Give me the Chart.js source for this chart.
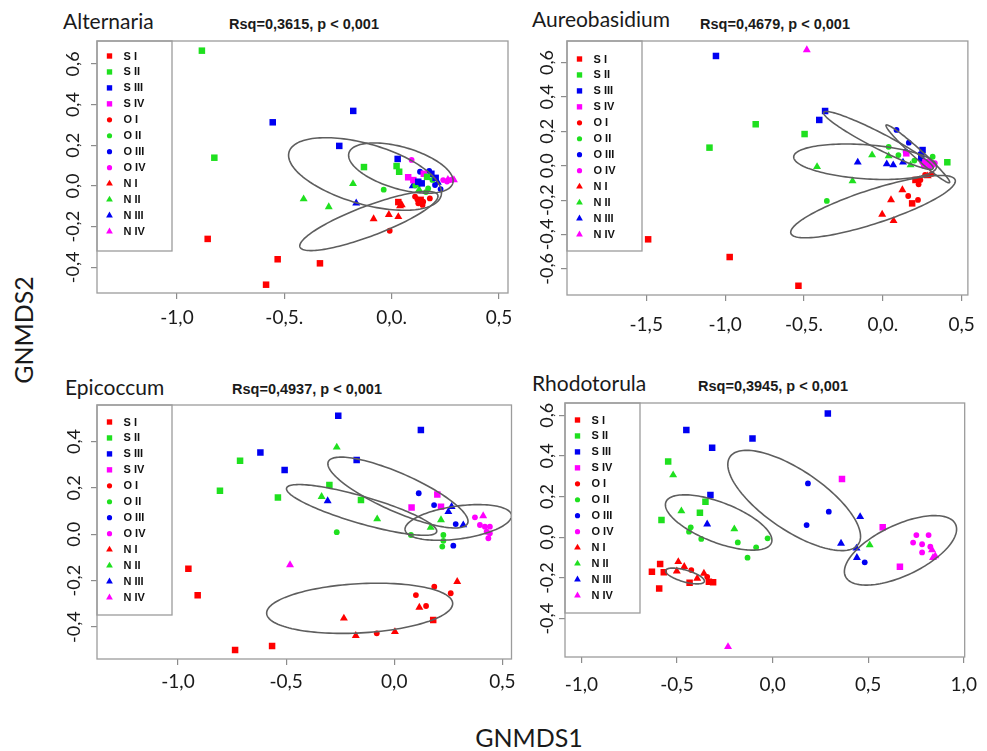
<!DOCTYPE html>
<html lang="en">
<head>
<meta charset="UTF-8">
<meta name="viewport" content="width=device-width, initial-scale=1.0">
<script src="https://cdn.jsdelivr.net/npm/chart.js@4.4.1/dist/chart.umd.min.js"></script>
<title>GNMDS ordinations</title>
<style>
  body { margin: 0; background: #fff; }
  #page { position: relative; width: 987px; height: 751px; overflow: hidden; font-family: Lato, "Open Sans", sans-serif; color: #1a1a1a; }
  #page canvas { position: absolute; }
  .genus { position: absolute; font-size: 21px; white-space: nowrap; transform: translateY(-50%); }
  .rsq { position: absolute; font: bold 14.5px "Liberation Sans", Arial, sans-serif; white-space: nowrap; transform: translate(-50%, -50%); }
  .axis-title { position: absolute; font-size: 25px; white-space: nowrap; transform: translate(-50%, -50%); }
</style>
</head>
<body>
<div id="page">
  <div class="genus" style="left:63px;top:20px">Alternaria</div>
  <div class="rsq" style="left:304px;top:24px">Rsq=0,3615, p &lt; 0,001</div>
  <div class="genus" style="left:532px;top:18px">Aureobasidium</div>
  <div class="rsq" style="left:775px;top:24px">Rsq=0,4679, p &lt; 0,001</div>
  <div class="genus" style="left:65px;top:386px">Epicoccum</div>
  <div class="rsq" style="left:307px;top:389px">Rsq=0,4937, p &lt; 0,001</div>
  <div class="genus" style="left:532px;top:382px">Rhodotorula</div>
  <div class="rsq" style="left:773px;top:386px">Rsq=0,3945, p &lt; 0,001</div>

  <canvas id="alternaria" width="485" height="315" style="left:40px;top:30px"></canvas>
  <canvas id="aureobasidium" width="472" height="315" style="left:515px;top:30px"></canvas>
  <canvas id="epicoccum" width="485" height="304" style="left:40px;top:395px"></canvas>
  <canvas id="rhodotorula" width="472" height="305" style="left:515px;top:395px"></canvas>

  <div class="axis-title" style="left:23px;top:330px;transform:translate(-50%,-50%) rotate(-90deg)">GNMDS2</div>
  <div class="axis-title" style="left:529px;top:737px">GNMDS1</div>
</div>

<script>
// sample groups: S/O/N sites, I-IV sampling times
const groups = ['S I', 'S II', 'S III', 'S IV', 'O I', 'O II', 'O III', 'O IV', 'N I', 'N II', 'N III', 'N IV'];
const timeColors = ['#ff0000', '#1fe01f', '#0000f2', '#ff00ff'];
const siteShapes = { S: 'rect', O: 'circle', N: 'triangle' };

// [group, GNMDS1, GNMDS2]
const alternariaPoints = [
  ['S I', -0.857, -0.260], ['S I', -0.531, -0.360], ['S I', -0.334, -0.380], ['S I', -0.585, -0.485], ['S I', 0.031, -0.079], ['S I', 0.135, -0.068],
  ['S II', -0.884, 0.665], ['S II', -0.826, 0.139], ['S II', -0.129, 0.093], ['S II', 0.023, 0.098], ['S II', 0.035, 0.070], ['S II', 0.165, 0.045],
  ['S III', -0.554, 0.313], ['S III', -0.179, 0.369], ['S III', -0.244, 0.197], ['S III', 0.028, 0.133], ['S III', 0.124, 0.021], ['S III', 0.140, 0.013], ['S III', 0.185, 0.060], ['S III', 0.205, 0.040],
  ['S IV', 0.077, 0.043], ['S IV', 0.101, 0.029], ['S IV', 0.150, 0.060],
  ['O I', -0.009, -0.220], ['O I', 0.109, -0.052], ['O I', 0.124, -0.085], ['O I', 0.144, -0.093], ['O I', 0.178, -0.061], ['O I', 0.147, -0.077], ['O I', 0.120, -0.066],
  ['O II', -0.037, -0.018], ['O II', 0.110, 0.003], ['O II', 0.170, -0.012], ['O II', 0.190, 0.030], ['O II', 0.160, -0.030], ['O II', 0.125, 0.010],
  ['O III', 0.132, 0.070], ['O III', 0.175, 0.074], ['O III', 0.202, 0.005], ['O III', 0.228, -0.015],
  ['O IV', 0.093, 0.128], ['O IV', 0.240, 0.029], ['O IV', 0.272, 0.029], ['O IV', 0.284, 0.033], ['O IV', 0.258, 0.022],
  ['N I', -0.084, -0.162], ['N I', -0.013, -0.141], ['N I', 0.031, -0.151], ['N I', 0.039, -0.098], ['N I', 0.047, -0.093],
  ['N II', -0.410, -0.064], ['N II', -0.293, -0.103], ['N II', -0.180, 0.011], ['N II', 0.128, -0.018],
  ['N III', -0.165, -0.084], ['N III', 0.098, 0.000], ['N III', 0.215, 0.018],
  ['N IV', 0.262, 0.032], ['N IV', 0.290, 0.030]
];
const aureobasidiumPoints = [
  ['S I', -1.488, -0.428], ['S I', -0.971, -0.531], ['S I', -0.535, -0.698], ['S I', 0.207, -0.083], ['S I', 0.186, -0.219],
  ['S II', -0.806, 0.241], ['S II', -1.099, 0.105], ['S II', -0.496, 0.184], ['S II', 0.409, 0.020],
  ['S III', -1.058, 0.638], ['S III', -0.366, 0.318], ['S III', -0.403, 0.266], ['S III', 0.252, 0.091], ['S III', 0.244, 0.062],
  ['S IV', 0.149, 0.072], ['S IV', 0.270, 0.020], ['S IV', 0.300, 0.010],
  ['O I', 0.238, -0.083], ['O I', 0.227, -0.108], ['O I', 0.268, -0.054], ['O I', 0.310, -0.048], ['O I', 0.161, -0.176], ['O I', 0.223, -0.199],
  ['O II', -0.355, -0.205], ['O II', 0.037, 0.110], ['O II', 0.099, 0.062], ['O II', 0.316, 0.052], ['O II', 0.200, 0.030],
  ['O III', 0.087, 0.208], ['O III', 0.165, 0.134], ['O III', 0.145, 0.081], ['O III', 0.240, 0.040],
  ['O IV', 0.250, 0.020], ['O IV', 0.285, 0.025], ['O IV', 0.320, 0.005], ['O IV', 0.295, -0.005], ['O IV', 0.260, 0.000], ['O IV', 0.330, 0.015],
  ['N I', 0.124, -0.141], ['N I', 0.052, -0.199], ['N I', -0.004, -0.283], ['N I', 0.068, -0.320], ['N I', 0.285, -0.060],
  ['N II', -0.417, -0.006], ['N II', -0.192, -0.089], ['N II', -0.068, 0.062], ['N II', 0.037, 0.056], ['N II', 0.176, 0.004],
  ['N III', -0.159, 0.020], ['N III', 0.025, 0.010], ['N III', 0.066, 0.004], ['N III', 0.128, 0.020],
  ['N IV', -0.482, 0.673], ['N IV', 0.300, 0.020]
];
const epicoccumPoints = [
  ['S I', -0.952, -0.148], ['S I', -0.909, -0.263], ['S I', -0.736, -0.499], ['S I', -0.565, -0.481], ['S I', 0.180, -0.369],
  ['S II', -0.713, 0.317], ['S II', -0.806, 0.188], ['S II', -0.538, 0.159], ['S II', -0.300, 0.212], ['S II', -0.154, 0.148],
  ['S III', -0.259, 0.511], ['S III', 0.123, 0.450], ['S III', -0.619, 0.353], ['S III', -0.507, 0.277], ['S III', -0.174, 0.320],
  ['S IV', 0.199, 0.172], ['S IV', 0.080, 0.116], ['S IV', 0.216, 0.119],
  ['O I', 0.185, -0.226], ['O I', 0.100, -0.262], ['O I', 0.261, -0.254], ['O I', 0.147, -0.309], ['O I', -0.081, -0.427],
  ['O II', -0.266, 0.009], ['O II', 0.077, -0.003], ['O II', 0.227, -0.003], ['O II', 0.227, -0.028], ['O II', 0.222, -0.053],
  ['O III', 0.113, 0.177], ['O III', 0.184, 0.126], ['O III', 0.273, -0.049], ['O III', 0.284, 0.044],
  ['O IV', 0.373, 0.073], ['O IV', 0.396, 0.040], ['O IV', 0.419, 0.033], ['O IV', 0.442, 0.033], ['O IV', 0.427, 0.011], ['O IV', 0.442, 0.004], ['O IV', 0.435, -0.017],
  ['N I', 0.291, -0.204], ['N I', 0.116, -0.315], ['N I', -0.233, -0.362], ['N I', -0.178, -0.437], ['N I', 0.003, -0.420],
  ['N II', -0.266, 0.375], ['N II', -0.336, 0.162], ['N II', -0.079, 0.066], ['N II', 0.216, 0.062], ['N II', 0.168, 0.030],
  ['N III', -0.308, 0.144], ['N III', 0.265, 0.119], ['N III', 0.250, 0.097], ['N III', 0.319, 0.040],
  ['N IV', 0.411, 0.079], ['N IV', -0.482, -0.132]
];
const rhodotorulaPoints = [
  ['S I', -0.631, -0.169], ['S I', -0.588, -0.131], ['S I', -0.569, -0.172], ['S I', -0.593, -0.251], ['S I', -0.434, -0.223], ['S I', -0.333, -0.218], ['S I', -0.311, -0.221],
  ['S II', -0.546, 0.372], ['S II', -0.351, 0.175], ['S II', -0.380, 0.121], ['S II', -0.581, 0.085],
  ['S III', 0.289, 0.609], ['S III', -0.451, 0.527], ['S III', -0.105, 0.486], ['S III', -0.316, 0.440], ['S III', -0.325, 0.208],
  ['S IV', 0.363, 0.286], ['S IV', 0.576, 0.049], ['S IV', 0.666, -0.144],
  ['O I', -0.425, -0.161], ['O I', -0.342, -0.194],
  ['O II', -0.428, 0.049], ['O II', -0.437, 0.028], ['O II', -0.373, -0.008], ['O II', -0.182, -0.025], ['O II', -0.086, -0.049], ['O II', -0.026, -0.005], ['O II', -0.131, -0.100],
  ['O III', 0.185, 0.265], ['O III', 0.294, 0.126], ['O III', 0.178, 0.060], ['O III', 0.482, -0.123],
  ['O IV', 0.752, 0.011], ['O IV', 0.816, 0.011], ['O IV', 0.735, -0.026], ['O IV', 0.782, -0.034], ['O IV', 0.782, -0.074], ['O IV', 0.825, -0.046],
  ['N I', -0.493, -0.120], ['N I', -0.501, -0.166], ['N I', -0.462, -0.144], ['N I', -0.394, -0.202], ['N I', -0.359, -0.177],
  ['N II', -0.520, 0.306], ['N II', -0.477, 0.129], ['N II', -0.200, 0.041], ['N II', 0.508, -0.038],
  ['N III', -0.342, 0.065], ['N III', 0.458, 0.101], ['N III', 0.358, -0.030], ['N III', 0.439, -0.054], ['N III', 0.441, -0.100],
  ['N IV', -0.233, -0.538], ['N IV', 0.834, -0.062], ['N IV', 0.851, -0.092], ['N IV', 0.839, -0.100]
];

// dispersion ellipses: centre, then two conjugate semi-axes [cx, cy, ux, uy, vx, vy]
const alternariaEllipses = [
  [-0.124, 0.059, 0.354, -0.108, 0.039, 0.142],
  [0.043, 0.088, 0.242, -0.074, 0.027, 0.099],
  [-0.106, -0.172, 0.321, 0.128, 0.025, -0.069]
];
const aureobasidiumEllipses = [
  [-0.112, 0.023, 0.453, -0.029, 0.007, 0.099],
  [-0.028, 0.147, 0.347, -0.163, 0.022, 0.042],
  [0.222, 0.069, 0.201, -0.167, 0.019, 0.020],
  [-0.062, -0.238, 0.521, 0.155, 0.032, -0.094]
];
const epicoccumEllipses = [
  [0.017, 0.180, 0.322, -0.133, 0.036, 0.075],
  [-0.151, 0.105, 0.347, -0.094, 0.017, 0.056],
  [0.296, 0.051, 0.246, 0.032, 0.011, -0.070],
  [-0.160, -0.319, 0.430, 0.022, 0.006, -0.106]
];
const rhodotorulaEllipses = [
  [-0.282, 0.073, 0.276, -0.100, 0.037, 0.092],
  [0.113, 0.181, 0.336, -0.214, 0.087, 0.122],
  [0.669, -0.064, 0.288, 0.128, 0.056, -0.113],
  [-0.458, -0.190, 0.101, -0.027, 0.008, 0.028]
];

// axis ticks and their printed labels
const alternariaXTicks = [-1, -0.5, 0, 0.5];
const alternariaXLabels = ['-1,0', '-0,5.', '0,0.', '0,5'];
const alternariaYTicks = [0.6, 0.4, 0.2, 0, -0.2, -0.4];
const alternariaYLabels = ['0,6', '0,4', '0,2', '0,0', '-0,2', '-0,4'];
const aureobasidiumXTicks = [-1.5, -1, -0.5, 0, 0.5];
const aureobasidiumXLabels = ['-1,5', '-1,0', '-0,5.', '0,0.', '0,5'];
const aureobasidiumYTicks = [0.6, 0.4, 0.2, 0, -0.2, -0.4, -0.6];
const aureobasidiumYLabels = ['0,6', '0,4', '0,2', '0,0', '-0,2', '-0,4', '-0,6'];
const epicoccumXTicks = [-1, -0.5, 0, 0.5];
const epicoccumXLabels = ['-1,0', '-0,5', '0,0', '0,5'];
const epicoccumYTicks = [0.4, 0.2, 0, -0.2, -0.4];
const epicoccumYLabels = ['0,4', '0,2', '0.0', '-0,2', '-0,4'];
const rhodotorulaXTicks = [-1, -0.5, 0, 0.5, 1];
const rhodotorulaXLabels = ['-1,0', '-0,5', '0,0', '0,5', '1,0'];
const rhodotorulaYTicks = [0.6, 0.4, 0.2, 0, -0.2, -0.4];
const rhodotorulaYLabels = ['0,6', '0,4', '0,2', '0,0', '-0,2', '-0,4'];

// plotting limits
const alternariaRange = { x: [-1.3726, 0.542], y: [-0.5258, 0.7125] };
const aureobasidiumRange = { x: [-2.0025, 0.5394], y: [-0.7517, 0.725] };
const epicoccumRange = { x: [-1.3745, 0.542], y: [-0.5375, 0.5573] };
const rhodotorulaRange = { x: [-1.0856, 1.0047], y: [-0.588, 0.66] };

const boxGrey = '#9c9c9c';

function drawMark(ctx, style, x, y, r) {
  ctx.beginPath();
  if (style === 'rect') {
    const h = r * Math.SQRT1_2;
    ctx.rect(x - h, y - h, 2 * h, 2 * h);
  } else if (style === 'circle') {
    ctx.arc(x, y, r, 0, 2 * Math.PI);
  } else {
    ctx.moveTo(x, y - r);
    ctx.lineTo(x + r * 0.866, y + r / 2);
    ctx.lineTo(x - r * 0.866, y + r / 2);
    ctx.closePath();
  }
  ctx.fill();
}

// ellipses on top of the points, clipped to the plot box
const ellipsePlugin = {
  id: 'ellipses',
  afterDatasetsDraw(chart, args, opts) {
    const { ctx, chartArea: a, scales: { x, y } } = chart;
    ctx.save();
    ctx.beginPath();
    ctx.rect(a.left, a.top, a.right - a.left, a.bottom - a.top);
    ctx.clip();
    ctx.strokeStyle = '#5e5e5e';
    ctx.lineWidth = 1.6;
    opts.list.forEach(([cx, cy, ux, uy, vx, vy]) => {
      ctx.beginPath();
      for (let k = 0; k <= 144; k++) {
        const t = k / 144 * 2 * Math.PI;
        const px = x.getPixelForValue(cx + ux * Math.cos(t) + vx * Math.sin(t));
        const py = y.getPixelForValue(cy + uy * Math.cos(t) + vy * Math.sin(t));
        if (k === 0) ctx.moveTo(px, py); else ctx.lineTo(px, py);
      }
      ctx.closePath();
      ctx.stroke();
    });
    ctx.restore();
  }
};

// R style frame, boxed legend and rotated y labels
const framePlugin = {
  id: 'frame',
  afterDraw(chart, args, opts) {
    const { ctx, chartArea: a, scales: { y } } = chart;
    ctx.save();
    ctx.strokeStyle = boxGrey;
    ctx.lineWidth = 1.3;
    ctx.strokeRect(a.left, a.top, a.right - a.left, a.bottom - a.top);
    ctx.strokeRect(a.left, a.top, 75, 210);

    chart.data.datasets.forEach((ds, i) => {
      const ly = a.top + opts.legendTop + i * 15.95;
      ctx.fillStyle = ds.backgroundColor;
      const r = ds.pointStyle === 'rect' ? 3.8 : ds.pointStyle === 'circle' ? 2.6 : 3.9;
      drawMark(ctx, ds.pointStyle, a.left + 12.5, ly, r);
      ctx.fillStyle = '#111';
      ctx.font = 'bold 11px "Liberation Sans", Arial, sans-serif';
      ctx.textAlign = 'left';
      ctx.textBaseline = 'middle';
      ctx.fillText(ds.label, a.left + 26.5, ly + 0.5);
    });

    ctx.fillStyle = '#1a1a1a';
    ctx.font = '18px Lato, sans-serif';
    ctx.textAlign = 'center';
    ctx.textBaseline = 'middle';
    y.ticks.forEach((t, i) => {
      ctx.save();
      ctx.translate(a.left - opts.yLabelGap, y.getPixelForValue(t.value));
      ctx.rotate(-Math.PI / 2);
      ctx.fillText(opts.yLabels[i], 0, 0);
      ctx.restore();
    });
    ctx.restore();
  }
};

function makePanel(id, points, ellipses, range, xTicks, xLabels, yTicks, yLabels, lay) {
  const datasets = groups.map((g, i) => {
    const style = siteShapes[g[0]];
    return {
      label: g,
      data: points.filter(p => p[0] === g).map(p => ({ x: p[1], y: p[2] })),
      pointStyle: style,
      pointRadius: style === 'rect' ? 4.6 : style === 'circle' ? 2.9 : 4.6,
      backgroundColor: timeColors[i % 4],
      borderWidth: 0,
      pointBorderWidth: 0
    };
  });
  const tickGrid = { drawOnChartArea: false, drawTicks: true, tickLength: 6, color: '#8c8c8c', lineWidth: 1.2 };
  return new Chart(document.getElementById(id), {
    type: 'scatter',
    data: { datasets },
    options: {
      responsive: false,
      animation: false,
      events: [],
      layout: { padding: { left: 0, top: lay.top, right: lay.right, bottom: 0 } },
      scales: {
        x: {
          type: 'linear', min: range.x[0], max: range.x[1],
          afterBuildTicks: s => { s.ticks = xTicks.map(v => ({ value: v })); },
          afterFit: s => { s.height = lay.xh; },
          ticks: {
            autoSkip: false, maxRotation: 0, padding: lay.xpad, color: '#1a1a1a',
            font: { family: 'Lato', size: 19 },
            callback: (v, i) => xLabels[i]
          },
          grid: tickGrid,
          border: { display: false }
        },
        y: {
          type: 'linear', min: range.y[0], max: range.y[1],
          afterBuildTicks: s => { s.ticks = yTicks.map(v => ({ value: v })); },
          afterFit: s => { s.width = lay.yw; },
          ticks: { display: false },
          grid: tickGrid,
          border: { display: false }
        }
      },
      plugins: {
        legend: { display: false },
        tooltip: { enabled: false },
        ellipses: { list: ellipses },
        frame: { yLabels, yLabelGap: lay.gap, legendTop: lay.legendTop }
      }
    },
    plugins: [ellipsePlugin, framePlugin]
  });
}

makePanel('alternaria', alternariaPoints, alternariaEllipses, alternariaRange,
  alternariaXTicks, alternariaXLabels, alternariaYTicks, alternariaYLabels,
  { top: 11, right: 17, yw: 57, xh: 52, xpad: 7, gap: 24, legendTop: 15 });
makePanel('aureobasidium', aureobasidiumPoints, aureobasidiumEllipses, aureobasidiumRange,
  aureobasidiumXTicks, aureobasidiumXLabels, aureobasidiumYTicks, aureobasidiumYLabels,
  { top: 11, right: 10, yw: 52, xh: 50, xpad: 12, gap: 20, legendTop: 18 });
makePanel('epicoccum', epicoccumPoints, epicoccumEllipses, epicoccumRange,
  epicoccumXTicks, epicoccumXLabels, epicoccumYTicks, epicoccumYLabels,
  { top: 10, right: 13.5, yw: 57, xh: 40, xpad: 5, gap: 23, legendTop: 17 });
makePanel('rhodotorula', rhodotorulaPoints, rhodotorulaEllipses, rhodotorulaRange,
  rhodotorulaXTicks, rhodotorulaXLabels, rhodotorulaYTicks, rhodotorulaYLabels,
  { top: 8, right: 19, yw: 50, xh: 43, xpad: 10, gap: 18, legendTop: 17 });
</script>
</body>
</html>
